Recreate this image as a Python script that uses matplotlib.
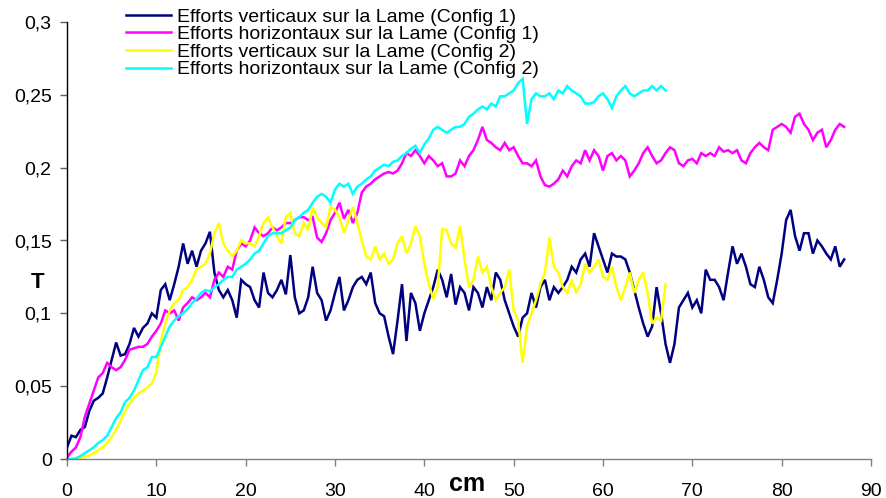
import numpy as np
import matplotlib
matplotlib.use("Agg")
import matplotlib.pyplot as plt
from matplotlib.ticker import FuncFormatter

# Sampling step along the blade travel (cm)
step_cm = 0.5

# Config 1 - vertical effort (T)
vert_cfg1 = [
    0.008, 0.016, 0.015, 0.020, 0.022, 0.033, 0.040, 0.042, 0.045, 0.056,
    0.068, 0.080, 0.071, 0.072, 0.079, 0.090, 0.084, 0.090, 0.093, 0.100,
    0.097, 0.116, 0.120, 0.109, 0.120, 0.132, 0.148, 0.134, 0.143, 0.132,
    0.143, 0.148, 0.156, 0.128, 0.116, 0.111, 0.116, 0.109, 0.097, 0.123,
    0.120, 0.118, 0.109, 0.104, 0.128, 0.114, 0.111, 0.116, 0.123, 0.113,
    0.140, 0.111, 0.100, 0.102, 0.111, 0.132, 0.114, 0.109, 0.095, 0.102,
    0.114, 0.125, 0.102, 0.109, 0.118, 0.123, 0.125, 0.120, 0.128, 0.107,
    0.100, 0.098, 0.084, 0.072, 0.095, 0.120, 0.081, 0.114, 0.107, 0.088,
    0.100, 0.109, 0.118, 0.130, 0.123, 0.111, 0.127, 0.106, 0.118, 0.114,
    0.102, 0.118, 0.114, 0.104, 0.118, 0.109, 0.128, 0.123, 0.109, 0.100,
    0.091, 0.084, 0.097, 0.100, 0.114, 0.104, 0.118, 0.123, 0.109, 0.118,
    0.114, 0.118, 0.123, 0.132, 0.128, 0.137, 0.141, 0.132, 0.155, 0.146,
    0.137, 0.128, 0.141, 0.139, 0.139, 0.137, 0.128, 0.116, 0.104, 0.093,
    0.084, 0.091, 0.118, 0.100, 0.079, 0.066, 0.079, 0.104, 0.109, 0.114,
    0.104, 0.109, 0.100, 0.130, 0.123, 0.123, 0.118, 0.109, 0.128, 0.146,
    0.134, 0.141, 0.132, 0.120, 0.118, 0.132, 0.123, 0.111, 0.107, 0.123,
    0.141, 0.164, 0.171, 0.153, 0.143, 0.155, 0.155, 0.141, 0.150, 0.146,
    0.141, 0.137, 0.146, 0.132, 0.137,
]

# Config 1 - horizontal effort (T)
horiz_cfg1 = [
    0.001, 0.005, 0.008, 0.015, 0.029, 0.038, 0.047, 0.056, 0.059, 0.066,
    0.063, 0.061, 0.063, 0.068, 0.075, 0.076, 0.077, 0.077, 0.079, 0.084,
    0.088, 0.093, 0.102, 0.100, 0.102, 0.095, 0.104, 0.107, 0.111, 0.109,
    0.111, 0.114, 0.111, 0.123, 0.128, 0.125, 0.132, 0.130, 0.143, 0.148,
    0.146, 0.150, 0.159, 0.155, 0.153, 0.155, 0.159, 0.157, 0.159, 0.162,
    0.162, 0.164, 0.166, 0.166, 0.164, 0.166, 0.152, 0.149, 0.155, 0.164,
    0.169, 0.176, 0.165, 0.171, 0.162, 0.169, 0.183, 0.187, 0.189, 0.192,
    0.194, 0.196, 0.197, 0.196, 0.198, 0.203, 0.210, 0.208, 0.212, 0.208,
    0.203, 0.208, 0.205, 0.201, 0.203, 0.194, 0.194, 0.196, 0.205, 0.201,
    0.208, 0.212, 0.219, 0.228, 0.219, 0.217, 0.214, 0.212, 0.217, 0.212,
    0.214, 0.208, 0.203, 0.203, 0.201, 0.205, 0.194, 0.188, 0.187, 0.189,
    0.192, 0.198, 0.194, 0.201, 0.205, 0.203, 0.212, 0.205, 0.212, 0.208,
    0.198, 0.208, 0.210, 0.205, 0.208, 0.205, 0.194, 0.198, 0.203, 0.210,
    0.214, 0.208, 0.203, 0.205, 0.210, 0.214, 0.212, 0.203, 0.201, 0.205,
    0.206, 0.203, 0.210, 0.208, 0.210, 0.208, 0.214, 0.211, 0.212, 0.210,
    0.212, 0.205, 0.203, 0.210, 0.214, 0.217, 0.214, 0.212, 0.226, 0.228,
    0.230, 0.228, 0.224, 0.235, 0.237, 0.230, 0.226, 0.219, 0.224, 0.226,
    0.214, 0.219, 0.226, 0.230, 0.228,
]

# Config 2 - vertical effort (T)
vert_cfg2 = [
    0.000, 0.000, 0.000, 0.0005, 0.0015, 0.0025, 0.004, 0.006, 0.008, 0.011,
    0.015, 0.020, 0.026, 0.033, 0.038, 0.042, 0.045, 0.047, 0.049, 0.052,
    0.059, 0.081, 0.093, 0.102, 0.107, 0.109, 0.116, 0.118, 0.123, 0.130,
    0.132, 0.134, 0.141, 0.155, 0.162, 0.148, 0.143, 0.139, 0.143, 0.150,
    0.148, 0.148, 0.146, 0.153, 0.162, 0.166, 0.159, 0.153, 0.148, 0.166,
    0.169, 0.155, 0.153, 0.162, 0.157, 0.173, 0.166, 0.162, 0.159, 0.173,
    0.171, 0.166, 0.155, 0.164, 0.173, 0.162, 0.150, 0.139, 0.137, 0.146,
    0.137, 0.141, 0.134, 0.137, 0.148, 0.153, 0.141, 0.148, 0.160, 0.153,
    0.134, 0.120, 0.110, 0.118, 0.158, 0.157, 0.148, 0.145, 0.160, 0.137,
    0.118, 0.123, 0.139, 0.128, 0.132, 0.118, 0.109, 0.114, 0.118, 0.130,
    0.102, 0.095, 0.066, 0.091, 0.100, 0.109, 0.120, 0.128, 0.152, 0.132,
    0.128, 0.118, 0.114, 0.123, 0.114, 0.120, 0.134, 0.128, 0.132, 0.137,
    0.125, 0.123, 0.132, 0.118, 0.109, 0.118, 0.128, 0.114, 0.123, 0.128,
    0.114, 0.093, 0.097, 0.095, 0.120,
]

# Config 2 - horizontal effort (T)
horiz_cfg2 = [
    0.000, 0.000, 0.0005, 0.002, 0.004, 0.006, 0.008, 0.011, 0.013, 0.016,
    0.022, 0.028, 0.032, 0.039, 0.042, 0.047, 0.054, 0.061, 0.063, 0.070,
    0.070, 0.077, 0.084, 0.091, 0.095, 0.098, 0.100, 0.103, 0.107, 0.110,
    0.114, 0.116, 0.115, 0.118, 0.120, 0.123, 0.125, 0.125, 0.130, 0.132,
    0.134, 0.137, 0.141, 0.143, 0.148, 0.153, 0.155, 0.155, 0.155, 0.157,
    0.159, 0.164, 0.166, 0.169, 0.171, 0.176, 0.180, 0.182, 0.180, 0.176,
    0.185, 0.189, 0.187, 0.189, 0.182, 0.187, 0.189, 0.192, 0.194, 0.198,
    0.200, 0.202, 0.201, 0.204, 0.205, 0.208, 0.210, 0.213, 0.215, 0.210,
    0.216, 0.220, 0.226, 0.228, 0.226, 0.224, 0.226, 0.228, 0.228, 0.230,
    0.235, 0.237, 0.240, 0.242, 0.240, 0.244, 0.242, 0.249, 0.249, 0.251,
    0.253, 0.258, 0.261, 0.230, 0.247, 0.251, 0.249, 0.249, 0.251, 0.247,
    0.253, 0.251, 0.256, 0.253, 0.251, 0.249, 0.244, 0.244, 0.245, 0.249,
    0.251, 0.247, 0.241, 0.249, 0.253, 0.256, 0.251, 0.249, 0.251, 0.253,
    0.253, 0.256, 0.253, 0.256, 0.253,
]

series = [
    (vert_cfg1, "#000080", "Efforts verticaux sur la Lame (Config 1)"),
    (horiz_cfg1, "#FF00FF", "Efforts horizontaux sur la Lame (Config 1)"),
    (vert_cfg2, "#FFFF00", "Efforts verticaux sur la Lame (Config 2)"),
    (horiz_cfg2, "#00FFFF", "Efforts horizontaux sur la Lame (Config 2)"),
]

x_ticks = list(range(0, 91, 10))
y_ticks = [0, 0.05, 0.1, 0.15, 0.2, 0.25, 0.3]

plt.rcParams["font.family"] = ["Liberation Sans", "DejaVu Sans"]

W, H = 887, 498
fig = plt.figure(figsize=(W / 100, H / 100), dpi=100)
ax = fig.add_axes([67 / W, 1 - 459 / H, (871 - 67) / W, (459 - 22) / H])

handles = []
for vals, color, label in series:
    xs = np.arange(len(vals)) * step_cm
    (ln,) = ax.plot(xs, vals, color=color, lw=1.8, label=label,
                    solid_joinstyle="miter")
    handles.append(ln)

ax.set_xlim(0, 90)
ax.set_ylim(0, 0.3)
ax.set_xticks(x_ticks)
ax.set_yticks(y_ticks)

comma = FuncFormatter(lambda v, _: ("%g" % v).replace(".", ","))
ax.yaxis.set_major_formatter(comma)
ax.xaxis.set_major_formatter(FuncFormatter(lambda v, _: "%d" % v))

for side in ("top", "right"):
    ax.spines[side].set_visible(False)
ax.spines["left"].set_color("black")
ax.spines["bottom"].set_color("#808080")
ax.spines["left"].set_linewidth(1.0)
ax.spines["bottom"].set_linewidth(1.0)

ax.tick_params(axis="x", direction="out", length=5, width=1, color="#808080",
               labelsize=14, pad=12)
ax.tick_params(axis="y", direction="out", length=5, width=1, color="#606060",
               labelsize=14, pad=6)

ax.set_ylabel("T", rotation=0, fontsize=16, fontweight="bold", va="center")
ax.yaxis.set_label_coords(-0.037, 0.405)
ax.set_xlabel("cm", fontsize=18, fontweight="bold")
ax.xaxis.set_label_coords(0.498, -0.03)

fig.legend(handles=handles, loc="upper left",
           bbox_to_anchor=(126 / W, 1 - 8 / H), frameon=False,
           fontsize=14, borderpad=0, borderaxespad=0,
           handlelength=2.3, handletextpad=0.3, labelspacing=0.0)

fig.savefig("out.png", dpi=100)
